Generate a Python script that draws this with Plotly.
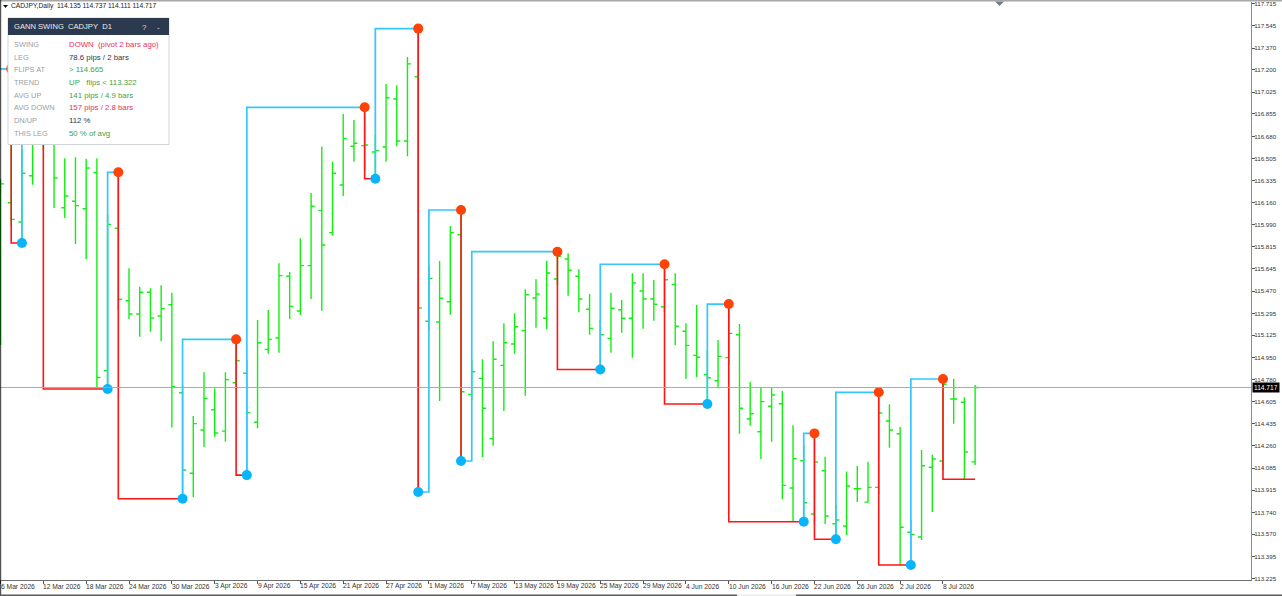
import plotly.graph_objects as go

# daily bars, one entry per trading day
opens = [116.308, 116.161, 116.010, 116.372, 116.769, 116.730, 116.122, 116.172, 116.114, 116.396,
         114.848, 115.961, 115.395, 115.291, 115.461, 115.276, 115.364, 114.676, 114.046, 114.384,
         114.543, 114.376, 114.754, 114.828, 114.445, 115.015, 115.104, 115.586, 115.315, 115.669,
         116.099, 115.927, 116.300, 116.602, 116.607, 116.558, 116.597, 116.972, 116.644, 117.146,
         115.234, 115.229, 115.387, 115.911, 114.663, 114.788, 114.316, 114.890, 115.057, 115.161,
         115.416, 115.258, 115.565, 115.721, 115.586, 115.328, 114.857, 115.101, 115.325, 115.258,
         115.471, 115.408, 115.348, 115.523, 115.156, 114.968, 114.817, 114.770, 114.950, 115.129,
         114.470, 114.371, 114.570, 114.590, 113.931, 114.144, 113.728, 114.066, 113.652, 113.634,
         113.925, 113.821, 113.936, 114.455, 114.355, 113.585, 113.548, 114.093, 114.142, 114.627,
         114.601, 114.135]
highs = [116.347, 117.207, 116.573, 116.808, 117.042, 116.808, 116.508, 116.516, 116.505, 116.508,
         116.065, 116.399, 115.648, 115.505, 115.492, 115.516, 115.458, 114.736, 114.494, 114.835,
         114.710, 114.835, 115.093, 114.932, 115.244, 115.322, 115.688, 115.620, 115.883, 116.237,
         116.599, 116.482, 116.855, 116.808, 116.907, 116.691, 117.089, 117.079, 117.300, 117.522,
         115.674, 115.706, 115.979, 116.104, 114.932, 114.937, 115.078, 115.218, 115.297, 115.484,
         115.562, 115.708, 115.778, 115.766, 115.641, 115.448, 115.244, 115.458, 115.401, 115.609,
         115.609, 115.557, 115.680, 115.609, 115.218, 115.362, 115.010, 115.088, 115.369, 115.213,
         114.760, 114.715, 114.715, 114.689, 114.421, 114.267, 114.358, 114.176, 113.798, 114.061,
         114.103, 114.136, 114.679, 114.585, 114.408, 113.681, 114.228, 114.191, 114.783, 114.783,
         114.640, 114.737]
lows = [115.049, 115.987, 115.846, 116.302, 116.573, 116.120, 116.042, 115.838, 115.721, 114.720,
        114.705, 115.322, 115.252, 115.114, 115.153, 115.078, 114.405, 113.847, 113.858, 114.251,
        114.332, 114.293, 114.697, 114.032, 114.398, 114.981, 114.989, 115.252, 115.283, 115.408,
        115.317, 115.903, 116.214, 116.482, 116.417, 116.349, 116.482, 116.602, 116.524, 113.900,
        115.166, 114.611, 115.286, 114.142, 114.619, 114.173, 114.262, 114.533, 114.981, 114.652,
        115.184, 115.172, 115.518, 115.434, 115.304, 115.129, 114.857, 114.989, 115.145, 114.950,
        115.176, 115.239, 115.307, 115.046, 114.783, 114.796, 114.588, 114.718, 114.892, 114.355,
        114.418, 114.158, 114.293, 113.843, 113.667, 113.667, 113.642, 113.649, 113.530, 113.563,
        113.821, 113.816, 113.876, 114.246, 113.329, 113.329, 113.524, 113.743, 114.072, 114.434,
        113.999, 114.111]
closes = [116.308, 116.031, 116.391, 116.730, 116.691, 116.354, 116.214, 116.138, 116.433, 114.795,
          115.992, 115.406, 115.291, 115.461, 115.260, 115.333, 114.723, 114.072, 114.434, 114.632,
          114.361, 114.778, 114.926, 114.520, 115.067, 115.093, 115.591, 115.351, 115.669, 116.133,
          115.831, 116.391, 116.662, 116.626, 116.612, 116.568, 116.982, 116.644, 117.246, 115.338,
          115.570, 115.414, 115.927, 114.684, 114.840, 114.554, 114.937, 115.067, 115.192, 115.442,
          115.448, 115.612, 115.742, 115.633, 115.408, 115.179, 115.129, 115.336, 115.258, 115.534,
          115.408, 115.367, 115.559, 115.195, 115.046, 114.953, 114.793, 114.960, 115.140, 114.554,
          114.512, 114.606, 114.658, 113.952, 114.160, 113.816, 114.134, 113.712, 113.681, 113.947,
          113.925, 113.936, 114.517, 114.384, 113.624, 113.569, 114.105, 114.158, 114.742, 114.627,
          114.212, 114.717]
last_price = 114.717

# gann swing pivots: bar index, price. first and last entries are the open ends of the line
pivot_bars = [-1, 1, 2, 4, 10, 11, 17, 22, 23, 34, 35, 39, 39, 43, 43, 52, 56, 62, 66, 68, 75, 76, 78, 82, 85, 88, 91]
pivot_prices = [117.207, 117.207, 115.846, 117.042, 114.705, 116.399, 113.847, 115.093, 114.032, 116.907,
                116.349, 117.522, 113.900, 116.104, 114.142, 115.778, 114.857, 115.680, 114.588, 115.369,
                113.667, 114.358, 113.530, 114.679, 113.329, 114.783, 113.999]
# legs that leave a pivot on the next bar (high and low printed on the same bar)
next_bar_legs = [12, 14]

date_bars = list(range(0, 92, 4))
date_labels = ["6 Mar 2026", "12 Mar 2026", "18 Mar 2026", "24 Mar 2026", "30 Mar 2026", "3 Apr 2026",
               "9 Apr 2026", "15 Apr 2026", "21 Apr 2026", "27 Apr 2026", "1 May 2026", "7 May 2026",
               "13 May 2026", "19 May 2026", "25 May 2026", "29 May 2026", "4 Jun 2026", "10 Jun 2026",
               "16 Jun 2026", "22 Jun 2026", "26 Jun 2026", "2 Jul 2026", "8 Jul 2026"]
price_ticks = [117.715, 117.545, 117.370, 117.200, 117.025, 116.855, 116.680, 116.505, 116.335,
               116.160, 115.990, 115.815, 115.645, 115.470, 115.295, 115.125, 114.950, 114.780,
               114.605, 114.435, 114.260, 114.085, 113.915, 113.740, 113.570, 113.395, 113.225]

panel_labels = ["SWING", "LEG", "FLIPS AT", "TREND", "AVG UP", "AVG DOWN", "DN/UP", "THIS LEG"]
panel_values = ["DOWN\u00a0 (pivot 2 bars ago)", "78.6 pips / 2 bars", "> 114.665", "UP\u00a0\u00a0 flips < 113.322",
                "141 pips / 4.9 bars", "157 pips / 2.8 bars", "112 %", "50 % of avg"]
panel_colors = ["#E8305A", "#2B3A4E", "#3FA34D", "#3FA34D", "#3FA34D", "#E8305A", "#2B3A4E", "#3FA34D"]

W, H = 1282, 596
ML, MR, MT, MB = 0, 31, 2, 16


def px(x):
    return (x - ML) / (W - ML - MR)


def py(y):
    return 1 - (y - MT) / (H - MT - MB)


fig = go.Figure()

fig.add_trace(go.Ohlc(
    x=list(range(len(opens))), open=opens, high=highs, low=lows, close=closes,
    increasing_line_color="#10F010", decreasing_line_color="#10F010",
    line_width=1.4, tickwidth=0.33, hoverinfo="skip", showlegend=False,
))

fig.add_hline(y=last_price, line_color="#A3ABAB", line_width=1)

# swing legs, one polyline per colour
up_x, up_y, dn_x, dn_y = [], [], [], []
for n in range(len(pivot_bars) - 1):
    vx = pivot_bars[n] + 1 if n in next_bar_legs else pivot_bars[n]
    xs = [pivot_bars[n], vx, vx, pivot_bars[n + 1], None]
    ys = [pivot_prices[n], pivot_prices[n], pivot_prices[n + 1], pivot_prices[n + 1], None]
    if pivot_prices[n + 1] >= pivot_prices[n]:
        up_x += xs
        up_y += ys
    else:
        dn_x += xs
        dn_y += ys
fig.add_trace(go.Scatter(x=up_x, y=up_y, mode="lines", line=dict(color="#33C6FF", width=1.7),
                         hoverinfo="skip", showlegend=False))
fig.add_trace(go.Scatter(x=dn_x, y=dn_y, mode="lines", line=dict(color="#FF1414", width=1.6),
                         hoverinfo="skip", showlegend=False))

# pivot dots, the open ends of the line get none
highs_x = [b for n, b in enumerate(pivot_bars[1:-1], 1) if pivot_prices[n] > pivot_prices[n + 1]]
highs_y = [p for n, p in enumerate(pivot_prices[1:-1], 1) if pivot_prices[n] > pivot_prices[n + 1]]
lows_x = [b for n, b in enumerate(pivot_bars[1:-1], 1) if pivot_prices[n] < pivot_prices[n + 1]]
lows_y = [p for n, p in enumerate(pivot_prices[1:-1], 1) if pivot_prices[n] < pivot_prices[n + 1]]
fig.add_trace(go.Scatter(x=highs_x, y=highs_y, mode="markers", marker=dict(color="#FF4208", size=10),
                         hoverinfo="skip", showlegend=False))
fig.add_trace(go.Scatter(x=lows_x, y=lows_y, mode="markers", marker=dict(color="#08B4FA", size=10),
                         hoverinfo="skip", showlegend=False))

shapes = [
    # window edges
    dict(type="rect", xref="paper", yref="paper", x0=px(0), x1=px(W), y0=py(0), y1=py(1.5),
         fillcolor="#A8A8A8", line_width=0, layer="above"),
    dict(type="rect", xref="paper", yref="paper", x0=px(0), x1=px(1.2), y0=py(0), y1=py(H),
         fillcolor="rgba(0,0,0,0.68)", line_width=0, layer="above"),
    dict(type="rect", xref="paper", yref="paper", x0=px(0), x1=px(737), y0=py(594.5), y1=py(H),
         fillcolor="#5A5A5A", line_width=0, layer="above"),
    dict(type="rect", xref="paper", yref="paper", x0=px(737), x1=px(796), y0=py(594.5), y1=py(H),
         fillcolor="#ECECEC", line_width=0, layer="above"),
    dict(type="rect", xref="paper", yref="paper", x0=px(796), x1=px(W), y0=py(594.5), y1=py(H),
         fillcolor="#5A5A5A", line_width=0, layer="above"),
    # chart shift marker
    dict(type="path", xref="paper", yref="paper", layer="above", line_width=0, fillcolor="#6E7F8E",
         path=f"M {px(995)} {py(1.5)} L {px(1004)} {py(1.5)} L {px(999.5)} {py(6)} Z"),
    # symbol marker
    dict(type="path", xref="paper", yref="paper", layer="above", line_width=0, fillcolor="#111111",
         path=f"M {px(3)} {py(5)} L {px(8)} {py(5)} L {px(5.5)} {py(8)} Z"),
    # info panel
    dict(type="rect", xref="paper", yref="paper", x0=px(8), x1=px(169), y0=py(18), y1=py(144.5),
         fillcolor="white", line=dict(color="#D2D5D8", width=1), layer="above"),
    dict(type="rect", xref="paper", yref="paper", x0=px(8), x1=px(169), y0=py(18), y1=py(35),
         fillcolor="#2B3A4E", line_width=0, layer="above"),
]

notes = []


def note(x, y, text, color="#222222", size=8, xanchor="left", **kw):
    notes.append(dict(xref="paper", yref="paper", x=px(x), y=py(y), text=text, showarrow=False,
                      xanchor=xanchor, yanchor="middle", font=dict(color=color, size=size), **kw))


# annotations carry 2px of padding on the left, hence the offsets
note(9, 6.5, "CADJPY,Daily\u00a0 114.135 114.737 114.111 114.717", "#222222", 6.7)
note(12, 26.5, "GANN SWING\u00a0 CADJPY\u00a0 D1", "#E8ECF0", 7.6)
note(144.5, 27.5, "?", "#D8DCE0", 8, "center")
note(158, 27.5, "-", "#D8DCE0", 8, "center")
for row, (lab, val, col) in enumerate(zip(panel_labels, panel_values, panel_colors)):
    y = 44.3 + row * 12.72
    note(12, y, lab, "#9AA0A6", 7.4)
    note(66.5, y, val, col, 7.8)
for bar, lab in zip(date_bars, date_labels):
    note(-1.5 + bar * 10.71, 586.5, lab, "#333333", 6.7)
# current price tag
note(1265.5, 387.5, f"{last_price:.3f}", "white", 6.6, "center", bgcolor="black", borderpad=1)

fig.update_layout(
    width=W, height=H, autosize=False, paper_bgcolor="white", plot_bgcolor="white",
    margin=dict(l=ML, r=MR, t=MT, b=MB, pad=0),
    font=dict(family="Liberation Sans"),
    shapes=fig.layout.shapes + tuple(shapes),
    annotations=notes,
    dragmode=False,
    xaxis=dict(range=[-0.047, 116.76], rangeslider=dict(visible=False), showgrid=False, zeroline=False,
               tickmode="array", tickvals=date_bars, ticktext=[""] * len(date_bars), ticks="outside",
               ticklen=3, tickwidth=1, tickcolor="#555555",
               showline=True, linecolor="#6E6E6E", linewidth=1),
    yaxis=dict(range=[113.212, 117.730], side="right", showgrid=False, zeroline=False,
               tickmode="array", tickvals=price_ticks, ticktext=[f"{p:.3f}" for p in price_ticks],
               ticks="outside", ticklen=3, tickwidth=1, tickcolor="#555555", ticklabelstandoff=-2,
               tickfont=dict(size=6.2, color="#333333"),
               showline=True, linecolor="#8C8C8C", linewidth=1),
)

fig.write_html("out.html", config={"displayModeBar": False},
               post_script="document.body.style.margin='0';document.documentElement.style.overflow='hidden';")
